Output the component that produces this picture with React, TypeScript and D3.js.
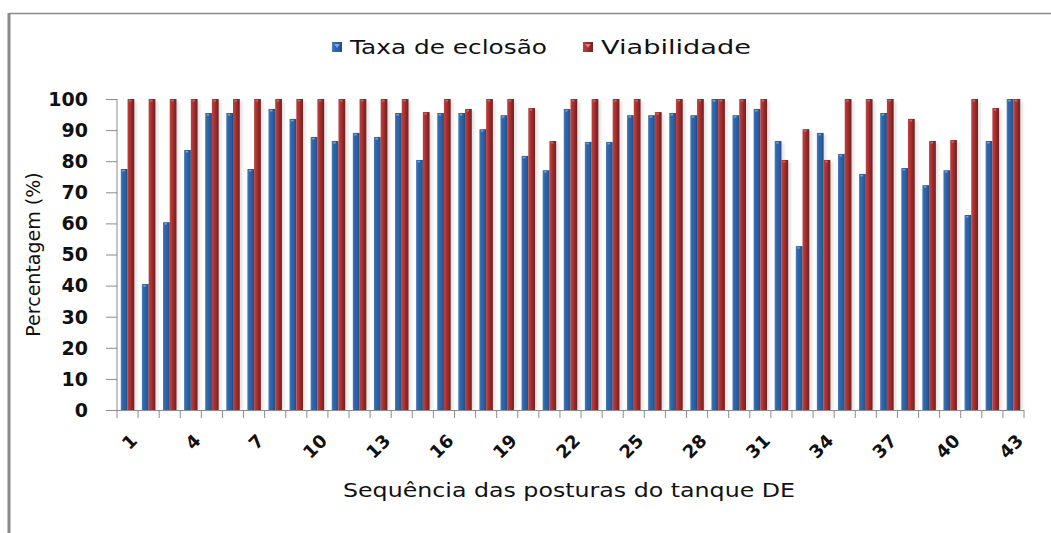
import React, { useEffect, useRef } from "react";
import * as d3 from "d3";

const categories = [
  "1", "2", "3", "4", "5", "6", "7", "8", "9", "10", "11", "12", "13", "14", "15",
  "16", "17", "18", "19", "20", "21", "22", "23", "24", "25", "26", "27", "28", "29",
  "30", "31", "32", "33", "34", "35", "36", "37", "38", "39", "40", "41", "42", "43",
];

const taxaEclosao = [
  77.5, 40.5, 60.4, 83.6, 95.5, 95.5, 77.5, 96.8, 93.6, 87.8, 86.5, 89.1, 87.8, 95.5,
  80.4, 95.5, 95.5, 90.3, 94.8, 81.7, 77.1, 96.8, 86.2, 86.2, 94.8, 94.8, 95.5, 94.8,
  100, 94.8, 96.8, 86.5, 52.7, 89.1, 82.3, 75.9, 95.5, 77.8, 72.3, 77.1, 62.7, 86.5, 100,
];

const viabilidade = [
  100, 100, 100, 100, 100, 100, 100, 100, 100, 100, 100, 100, 100, 100,
  95.8, 100, 96.8, 100, 100, 97.1, 86.5, 100, 100, 100, 100, 95.8, 100, 100,
  100, 100, 100, 80.4, 90.3, 80.4, 100, 100, 100, 93.6, 86.5, 86.8, 100, 97.1, 100,
];

const seriesNames = ["Taxa de eclosão", "Viabilidade"];
const xTickLabels = ["1", "4", "7", "10", "13", "16", "19", "22", "25", "28", "31", "34", "37", "40", "43"];
const yTicks = [0, 10, 20, 30, 40, 50, 60, 70, 80, 90, 100];

const W = 1051;
const H = 533;
const FONT = "'DejaVu Sans', sans-serif";

export default function App() {
  const ref = useRef<SVGSVGElement>(null);

  useEffect(() => {
    const svg = d3.select(ref.current);
    svg.selectAll("*").remove();

    const left = 117;
    const right = 1024;
    const top = 99;
    const bottom = 410;

    const defs = svg.append("defs");
    const grad = (id: string, stops: [number, string][]) => {
      const g = defs.append("linearGradient").attr("id", id).attr("x1", 0).attr("x2", 1).attr("y1", 0).attr("y2", 0);
      stops.forEach(([o, c]) => g.append("stop").attr("offset", o).attr("stop-color", c));
    };
    grad("gBlue", [[0, "#4a80c4"], [0.25, "#3068ad"], [0.7, "#2b5d9c"], [1, "#1f4a80"]]);
    grad("gRed", [[0, "#c04040"], [0.3, "#b33434"], [0.6, "#922a2a"], [1, "#6e2222"]]);
    defs.append("filter").attr("id", "shadow").attr("x", "-50%").attr("width", "200%")
      .append("feGaussianBlur").attr("stdDeviation", 1.5);

    // outer frame
    svg.append("line").attr("x1", 9).attr("x2", W).attr("y1", 13.5).attr("y2", 13.5)
      .attr("stroke", "#8a8a8a").attr("stroke-width", 1.5);
    svg.append("line").attr("x1", 9).attr("x2", 9).attr("y1", 13).attr("y2", H)
      .attr("stroke", "#8a8a8a").attr("stroke-width", 3);

    const x0 = d3.scaleBand().domain(categories).range([left, right]).paddingInner(0.36).paddingOuter(0.18);
    const x1 = d3.scaleBand().domain(seriesNames).range([0, x0.bandwidth()]);
    const y = d3.scaleLinear().domain([0, 100]).range([bottom, top]);
    const color = d3.scaleOrdinal<string>().domain(seriesNames).range(["url(#gBlue)", "url(#gRed)"]);

    const rows = categories.map((c, i) => ({ c, vals: [taxaEclosao[i], viabilidade[i]] }));

    const groups = svg.selectAll("g.grp").data(rows).enter().append("g")
      .attr("class", "grp")
      .attr("transform", (d) => `translate(${x0(d.c)},0)`);

    // shadows
    groups.selectAll("rect.sh").data((d) => d.vals.map((v, k) => ({ k, v }))).enter().append("rect")
      .attr("class", "sh")
      .attr("x", (d) => (x1(seriesNames[d.k]) as number) + 2.5)
      .attr("y", (d) => y(d.v) + 2)
      .attr("width", x1.bandwidth())
      .attr("height", (d) => bottom - y(d.v) - 2)
      .attr("fill", "#000").attr("opacity", 0.12).attr("filter", "url(#shadow)");

    groups.selectAll("rect.bar").data((d) => d.vals.map((v, k) => ({ k, v }))).enter().append("rect")
      .attr("class", "bar")
      .attr("x", (d) => x1(seriesNames[d.k]) as number)
      .attr("y", (d) => y(d.v))
      .attr("width", x1.bandwidth())
      .attr("height", (d) => bottom - y(d.v))
      .attr("fill", (d) => color(seriesNames[d.k]));

    // small highlight at bar tops
    groups.selectAll("rect.hl").data((d) => d.vals.map((v, k) => ({ k, v }))).enter().append("rect")
      .attr("class", "hl")
      .attr("x", (d) => (x1(seriesNames[d.k]) as number) + 1.5)
      .attr("y", (d) => y(d.v) + 1)
      .attr("width", 2.5)
      .attr("height", 1.5)
      .attr("fill", (d) => (d.k === 0 ? "#6fa4e6" : "#e06060"));

    // y axis
    const axisColor = "#8c8c8c";
    svg.append("line").attr("x1", left).attr("x2", left).attr("y1", top).attr("y2", bottom)
      .attr("stroke", axisColor).attr("stroke-width", 1);
    svg.selectAll("line.yt").data(yTicks).enter().append("line")
      .attr("x1", left - 11).attr("x2", left)
      .attr("y1", (d) => y(d) + 0.5).attr("y2", (d) => y(d) + 0.5)
      .attr("stroke", axisColor).attr("stroke-width", 1);
    svg.selectAll("text.yl").data(yTicks).enter().append("text")
      .attr("x", 88).attr("y", (d) => y(d))
      .attr("dy", "0.36em")
      .attr("text-anchor", "end")
      .attr("font-family", FONT).attr("font-size", 19).attr("font-weight", "bold")
      .attr("fill", "#111")
      .text((d) => d);

    // x axis
    svg.append("line").attr("x1", left).attr("x2", right).attr("y1", bottom + 0.5).attr("y2", bottom + 0.5)
      .attr("stroke", axisColor).attr("stroke-width", 1);
    const step = x0.step();
    const bounds = categories.map((c) => (x0(c) as number) - x0.paddingOuter() * step).concat([right]);
    svg.selectAll("line.xt").data(bounds).enter().append("line")
      .attr("x1", (d) => d).attr("x2", (d) => d)
      .attr("y1", bottom).attr("y2", bottom + 8)
      .attr("stroke", axisColor).attr("stroke-width", 1);

    svg.selectAll("text.xl").data(xTickLabels).enter().append("text")
      .attr("transform", (d) => {
        const cx = (x0(d) as number) + x0.bandwidth() / 2 + 2;
        return `translate(${cx},${433}) rotate(-45)`;
      })
      .attr("text-anchor", "end")
      .attr("dy", "0.7em")
      .attr("font-family", FONT).attr("font-size", 18).attr("font-weight", "bold")
      .attr("fill", "#111")
      .text((d) => d);

    // axis titles
    svg.append("text")
      .attr("transform", `translate(40,${(top + bottom) / 2}) rotate(-90)`)
      .attr("text-anchor", "middle")
      .attr("font-family", FONT).attr("font-size", 19)
      .attr("fill", "#111")
      .text("Percentagem (%)");

    svg.append("text")
      .attr("x", 569).attr("y", 497)
      .attr("text-anchor", "middle")
      .attr("font-family", FONT).attr("font-size", 20)
      .attr("textLength", 452).attr("lengthAdjust", "spacingAndGlyphs")
      .attr("fill", "#111")
      .text("Sequência das posturas do tanque DE");

    // legend
    const legendX = [332, 583];
    const legendLen = [197, 150];
    const legendFill = ["url(#gBlue)", "url(#gRed)"];
    seriesNames.forEach((name, i) => {
      svg.append("rect").attr("x", legendX[i]).attr("y", 42).attr("width", 10).attr("height", 10)
        .attr("fill", legendFill[i]);
      svg.append("path")
        .attr("d", `M${legendX[i] + 2},44 L${legendX[i] + 8},44 L${legendX[i] + 5},48 Z`)
        .attr("fill", i === 0 ? "#8fb8ea" : "#f08a8a").attr("opacity", 0.8);
      svg.append("text")
        .attr("x", legendX[i] + 18).attr("y", 47)
        .attr("dy", "0.36em")
        .attr("font-family", FONT).attr("font-size", 20)
        .attr("textLength", legendLen[i]).attr("lengthAdjust", "spacingAndGlyphs")
        .attr("fill", "#111")
        .text(name);
    });
  }, []);

  return (
    <svg
      ref={ref}
      width={W}
      height={H}
      style={{ position: "absolute", left: 0, top: 0, display: "block", background: "#fff" }}
    />
  );
}
